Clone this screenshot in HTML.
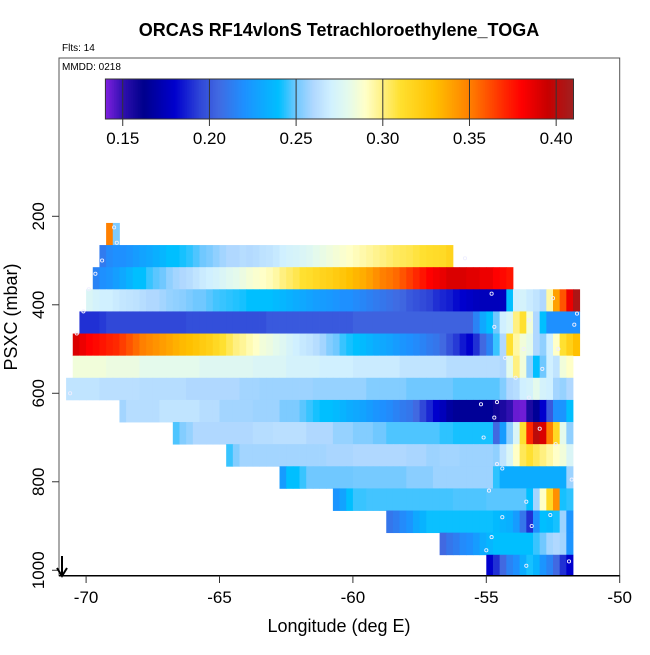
<!DOCTYPE html>
<html><head><meta charset="utf-8"><style>
html,body{margin:0;padding:0;background:#fff}
svg text{font-family:"Liberation Sans",Arial,sans-serif}
</style></head><body>
<svg id="chart" width="650" height="650" xmlns="http://www.w3.org/2000/svg">
<rect width="650" height="650" fill="#fff"/>
<text x="339" y="36" text-anchor="middle" font-size="18" font-weight="bold">ORCAS RF14vlonS Tetrachloroethylene_TOGA</text>
<text x="62" y="51" font-size="10">Flts: 14</text>
<g id="cells"></g>
<g id="pts"></g>
<rect x="59" y="58" width="560.7" height="517.7" fill="none" stroke="#555" stroke-width="1"/>
<line x1="59" y1="575.7" x2="619.7" y2="575.7" stroke="#000" stroke-width="1.5"/>
<text x="62" y="70" font-size="10">MMDD: 0218</text>
<g id="cbar"></g>
<g id="axes"></g>
<g stroke="#000" stroke-width="2" fill="none">
<line x1="62" y1="556" x2="62" y2="576"/><polyline points="57,568 62,576 67,568"/></g>
<text x="339" y="632" text-anchor="middle" font-size="18">Longitude (deg E)</text>
<text transform="translate(17,317) rotate(-90)" text-anchor="middle" font-size="18">PSXC (mbar)</text>
</svg>
<script>
const rowPressures=[240,290,340,390,440,490,540,590,640,690,740,790,840,890,940,990];
const rowStartLons=[-69.25,-69.5,-69.75,-70,-70.25,-70.5,-70.5,-70.75,-68.75,-66.75,-64.75,-62.75,-60.75,-58.75,-56.75,-55];
const rowA=[0.35,0.252];
const rowB=[0.212,0.218,0.22,0.22,0.222,0.225,0.228,0.23,0.233,0.236,0.24,0.24,0.242,0.244,0.247,0.25,0.252,0.255,0.258,0.26,0.26,0.262,0.261,0.262,0.264,0.265,0.267,0.27,0.272,0.273,0.275,0.277,0.28,0.282,0.284,0.286,0.288,0.29,0.292,0.294,0.296,0.298,0.3,0.302,0.304,0.305,0.306,0.308,0.31,0.312,0.313,0.314,0.318];
const rowC=[0.215,0.22,0.222,0.226,0.23,0.235,0.24,0.24,0.245,0.248,0.25,0.255,0.258,0.26,0.262,0.265,0.268,0.27,0.272,0.275,0.278,0.28,0.283,0.286,0.288,0.29,0.292,0.295,0.3,0.303,0.306,0.31,0.312,0.315,0.318,0.32,0.323,0.326,0.33,0.333,0.336,0.34,0.345,0.35,0.352,0.355,0.36,0.365,0.37,0.375,0.38,0.383,0.386,0.39,0.39,0.39,0.388,0.388,0.385,0.385,0.38,0.378,0.375];
const rowD=[0.275,0.272,0.27,0.27,0.268,0.266,0.265,0.264,0.262,0.26,0.26,0.258,0.256,0.255,0.254,0.252,0.25,0.25,0.248,0.246,0.245,0.244,0.243,0.242,0.24,0.24,0.24,0.24,0.238,0.236,0.234,0.232,0.23,0.228,0.226,0.225,0.224,0.222,0.22,0.22,0.218,0.216,0.214,0.212,0.21,0.208,0.206,0.204,0.2,0.198,0.196,0.194,0.19,0.188,0.186,0.182,0.18,0.178,0.176,0.175,0.175,0.175,0.176,0.24,0.27,0.272,0.268,0.265,0.26,0.295,0.34,0.36,0.385,0.405];
const rowE=[0.19,0.19,0.19,0.192,0.195,0.195,0.195,0.195,0.195,0.195,0.195,0.195,0.195,0.195,0.195,0.195,0.197,0.197,0.197,0.197,0.197,0.197,0.197,0.197,0.197,0.197,0.197,0.197,0.2,0.2,0.2,0.2,0.2,0.2,0.2,0.2,0.2,0.2,0.2,0.2,0.2,0.203,0.203,0.203,0.203,0.203,0.203,0.203,0.203,0.203,0.203,0.203,0.203,0.203,0.203,0.203,0.203,0.203,0.203,0.215,0.23,0.24,0.25,0.27,0.275,0.3,0.31,0.285,0.26,0.24,0.22,0.22,0.22,0.22,0.22];
const rowF=[0.39,0.385,0.38,0.378,0.375,0.372,0.37,0.365,0.36,0.355,0.35,0.347,0.344,0.341,0.338,0.335,0.332,0.33,0.327,0.323,0.32,0.315,0.31,0.305,0.3,0.297,0.293,0.29,0.285,0.283,0.28,0.277,0.273,0.27,0.267,0.265,0.262,0.258,0.253,0.25,0.245,0.242,0.24,0.238,0.235,0.232,0.23,0.228,0.225,0.222,0.22,0.218,0.215,0.212,0.21,0.205,0.198,0.192,0.185,0.18,0.19,0.205,0.215,0.245,0.26,0.31,0.295,0.285,0.28,0.26,0.255,0.27,0.29,0.31,0.32,0.33];
const rowG=[0.285,0.285,0.285,0.285,0.285,0.283,0.283,0.283,0.283,0.283,0.28,0.28,0.28,0.28,0.28,0.28,0.28,0.28,0.28,0.277,0.277,0.277,0.277,0.277,0.277,0.277,0.277,0.275,0.275,0.275,0.275,0.275,0.272,0.272,0.272,0.272,0.272,0.27,0.27,0.27,0.27,0.27,0.268,0.268,0.268,0.268,0.268,0.268,0.268,0.265,0.265,0.265,0.265,0.265,0.265,0.265,0.262,0.262,0.262,0.262,0.262,0.262,0.262,0.262,0.26,0.28,0.3,0.285,0.255,0.24,0.25,0.27,0.265,0.285,0.29];
const rowH=[0.265,0.265,0.265,0.265,0.265,0.263,0.263,0.263,0.263,0.263,0.263,0.262,0.262,0.262,0.262,0.262,0.262,0.262,0.26,0.26,0.26,0.26,0.26,0.26,0.26,0.26,0.258,0.258,0.258,0.257,0.257,0.257,0.257,0.257,0.257,0.257,0.257,0.256,0.256,0.256,0.256,0.256,0.256,0.256,0.256,0.253,0.253,0.253,0.253,0.253,0.253,0.25,0.25,0.25,0.25,0.25,0.25,0.25,0.248,0.248,0.248,0.248,0.248,0.248,0.248,0.253,0.26,0.262,0.27,0.272,0.28,0.272,0.27,0.258,0.256,0.26];
const rowI=[0.258,0.262,0.262,0.262,0.262,0.262,0.265,0.265,0.265,0.265,0.265,0.265,0.262,0.262,0.262,0.258,0.258,0.258,0.258,0.258,0.257,0.257,0.257,0.257,0.252,0.252,0.252,0.248,0.245,0.242,0.24,0.24,0.238,0.235,0.232,0.23,0.228,0.225,0.222,0.22,0.218,0.215,0.212,0.21,0.205,0.195,0.188,0.18,0.175,0.168,0.165,0.165,0.165,0.165,0.165,0.165,0.158,0.155,0.15,0.143,0.142,0.155,0.165,0.18,0.2,0.22,0.222,0.24];
const rowJ=[0.247,0.253,0.256,0.26,0.26,0.26,0.26,0.26,0.26,0.26,0.26,0.26,0.262,0.262,0.262,0.263,0.263,0.263,0.263,0.263,0.26,0.26,0.26,0.26,0.256,0.256,0.256,0.253,0.253,0.253,0.25,0.25,0.247,0.247,0.247,0.247,0.247,0.247,0.247,0.247,0.244,0.244,0.242,0.242,0.242,0.242,0.242,0.242,0.205,0.225,0.255,0.275,0.31,0.37,0.4,0.39,0.35,0.315,0.28,0.255];
const rowK=[0.245,0.253,0.258,0.258,0.258,0.258,0.258,0.258,0.258,0.258,0.258,0.258,0.258,0.258,0.258,0.259,0.259,0.259,0.259,0.26,0.26,0.26,0.26,0.26,0.26,0.26,0.26,0.259,0.259,0.259,0.257,0.257,0.258,0.258,0.258,0.257,0.257,0.257,0.257,0.257,0.255,0.265,0.275,0.29,0.305,0.31,0.305,0.3,0.295,0.29,0.285,0.275];
const rowL=[0.225,0.24,0.24,0.245,0.25,0.25,0.25,0.25,0.25,0.25,0.25,0.251,0.251,0.251,0.251,0.251,0.251,0.251,0.251,0.254,0.254,0.254,0.254,0.257,0.257,0.257,0.257,0.257,0.257,0.257,0.257,0.257,0.244,0.232,0.232,0.232,0.232,0.232,0.232,0.232,0.232,0.232,0.232,0.257];
const rowM=[0.222,0.228,0.24,0.245,0.245,0.246,0.246,0.246,0.246,0.246,0.246,0.246,0.246,0.246,0.246,0.246,0.246,0.246,0.247,0.247,0.247,0.247,0.247,0.248,0.248,0.248,0.248,0.248,0.248,0.24,0.258,0.29,0.315,0.345,0.242,0.244];
const rowN=[0.21,0.213,0.218,0.222,0.23,0.235,0.241,0.241,0.241,0.241,0.241,0.241,0.241,0.241,0.241,0.241,0.238,0.235,0.233,0.225,0.21,0.19,0.22,0.24,0.238,0.242,0.257,0.222];
const rowO=[0.205,0.21,0.213,0.218,0.22,0.225,0.232,0.236,0.24,0.24,0.24,0.24,0.24,0.24,0.245,0.25,0.258,0.26,0.258,0.222];
const rowP=[0.18,0.19,0.205,0.215,0.22,0.232,0.242,0.235,0.222,0.215,0.205,0.19,0.18];
const rows=[rowA,rowB,rowC,rowD,rowE,rowF,rowG,rowH,rowI,rowJ,rowK,rowL,rowM,rowN,rowO,rowP];
const cbTicks=[0.15,0.20,0.25,0.30,0.35,0.40];
const cbTickLabels=["0.15","0.20","0.25","0.30","0.35","0.40"];
const xTicks=[-70,-65,-60,-55,-50];
const yTicks=[200,400,600,800,1000];
const ptLons=[-68.95,-68.85,-69.4,-69.65,-69.9,-70.1,-70.35,-70.6,-55.8,-54.8,-54.7,-53.4,-53.6,-54.3,-52.5,-51.6,-52.3,-51.7,-53.9,-52.9,-53.4,-54.6,-55.2,-54.7,-53.0,-55.1,-52.4,-54.6,-54.4,-51.8,-54.9,-53.5,-54.4,-52.6,-53.3,-54.8,-55.0,-53.5,-51.9];
const ptPress=[225,260,300,330,365,415,465,600,295,375,450,435,500,520,385,420,500,445,565,545,610,620,625,655,680,700,715,760,770,795,820,845,880,875,900,925,955,990,980];

const cellDeg=0.25, rowHeight=50;
const X=lon=>86.1+(lon+70)*26.68;
const Y=p=>216.3+(p-200)*0.44245;
const stops=[[0.14,[128,32,224]],[0.15,[48,16,176]],[0.162,[0,0,140]],[0.18,[0,0,205]],[0.195,[48,72,216]],[0.205,[65,105,225]],[0.22,[30,144,255]],[0.24,[0,191,255]],[0.25,[112,200,255]],[0.26,[176,216,255]],[0.27,[208,240,255]],[0.28,[228,250,236]],[0.29,[255,255,200]],[0.30,[255,240,128]],[0.31,[255,224,48]],[0.33,[255,192,0]],[0.35,[255,128,0]],[0.37,[255,40,0]],[0.38,[255,0,0]],[0.395,[200,0,0]],[0.41,[160,32,32]]];
function col(v){
  if(v<=stops[0][0])return 'rgb('+stops[0][1]+')';
  for(let i=1;i<stops.length;i++){if(v<=stops[i][0]){const a=stops[i-1],b=stops[i],t=(v-a[0])/(b[0]-a[0]);
    return 'rgb('+a[1].map((c,k)=>Math.round(c+(b[1][k]-c)*t)).join(',')+')';}}
  return 'rgb('+stops[stops.length-1][1]+')';
}
const NS='http://www.w3.org/2000/svg';
function mk(tag,attrs,parent){const e=document.createElementNS(NS,tag);for(const k in attrs)e.setAttribute(k,attrs[k]);parent.appendChild(e);return e;}
const cells=document.getElementById('cells');
const yBottom=575.7;
rows.forEach((vals,r)=>{
  const y0=Y(rowPressures[r]-rowHeight/2), y1=Math.min(Y(rowPressures[r]+rowHeight/2),yBottom);
  vals.forEach((v,i)=>{
    const x0=X(rowStartLons[r]+i*cellDeg), x1=X(rowStartLons[r]+(i+1)*cellDeg);
    const e=mk('rect',{x:x0.toFixed(2),y:y0.toFixed(2),width:(x1-x0+0.4).toFixed(2),height:(y1-y0+0.4).toFixed(2),fill:col(v)},cells);
    
    
  });
});
const pts=document.getElementById('pts');
ptLons.forEach((lon,i)=>{
  const c=mk('circle',{cx:X(lon).toFixed(1),cy:Y(ptPress[i]).toFixed(1),r:1.6,fill:'none',stroke:'#eef',"stroke-width":0.9},pts);
  
  
});
const cb=document.getElementById('cbar');
const CB=v=>105.4+(v-0.14)*(573.5-105.4)/0.27;
for(let k=0;k<270;k++){const v=0.14+k*0.001;
  mk('rect',{x:CB(v).toFixed(2),y:79,width:2.2,height:40,fill:col(v+0.0005)},cb);}
mk('rect',{x:105.4,y:79,width:468.1,height:40,fill:'none',stroke:'#333','stroke-width':1},cb);
cbTicks.forEach((t,i)=>{
  const x=CB(t);
  mk('line',{x1:x,y1:79,x2:x,y2:126,stroke:'#333','stroke-width':1},cb);
  const tx=mk('text',{x:x,y:144,'text-anchor':'middle','font-size':17},cb);
  tx.textContent=cbTickLabels[i];
  
  
});
const ax=document.getElementById('axes');
xTicks.forEach(t=>{
  const x=X(t);
  mk('line',{x1:x,y1:575.7,x2:x,y2:583,stroke:'#333'},ax);
  const tx=mk('text',{x:x,y:603,'text-anchor':'middle','font-size':17},ax);
  tx.textContent=String(t);
  
  
});
yTicks.forEach(t=>{
  const y=Y(t);
  mk('line',{x1:52,y1:y,x2:59,y2:y,stroke:'#333'},ax);
  const tx=mk('text',{transform:'translate(44,'+y+') rotate(-90)','text-anchor':'middle','font-size':17},ax);
  tx.textContent=String(t);
  
  
});
</script>
</body></html>
